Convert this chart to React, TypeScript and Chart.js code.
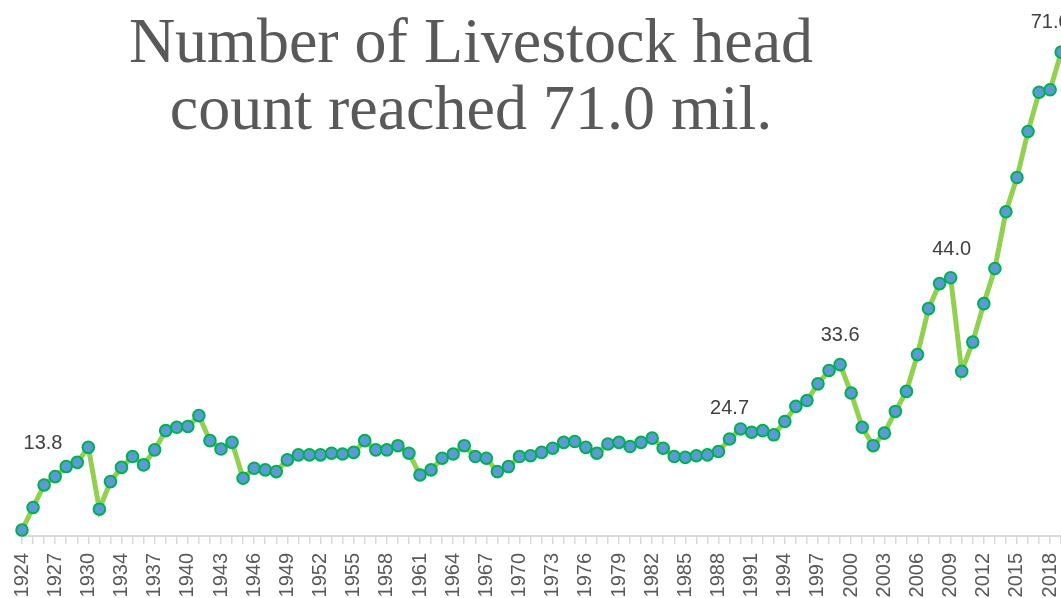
import React, { useEffect, useRef } from "react";
import { Chart, registerables } from "chart.js";

Chart.register(...registerables);

const years: number[] = [
  1924, 1925, 1926, 1927, 1928, 1929, 1930, 1932, 1933, 1934, 1935, 1936, 1937, 1938, 1939, 1940,
  1941, 1942, 1943, 1944, 1945, 1946, 1947, 1948, 1949, 1950, 1951, 1952, 1953, 1954, 1955, 1956,
  1957, 1958, 1959, 1960, 1961, 1962, 1963, 1964, 1965, 1966, 1967, 1968, 1969, 1970, 1971, 1972,
  1973, 1974, 1975, 1976, 1977, 1978, 1979, 1980, 1981, 1982, 1983, 1984, 1985, 1986, 1987, 1988,
  1989, 1990, 1991, 1992, 1993, 1994, 1995, 1996, 1997, 1998, 1999, 2000, 2001, 2002, 2003, 2004,
  2005, 2006, 2007, 2008, 2009, 2010, 2011, 2012, 2013, 2014, 2015, 2016, 2017, 2018, 2019,
];

const livestockMil: number[] = [
  13.8, 16.5, 19.2, 20.2, 21.4, 21.9, 23.7, 16.3, 19.6, 21.3, 22.6, 21.6, 23.4, 25.7, 26.1, 26.2,
  27.5, 24.5, 23.5, 24.3, 20.0, 21.2, 21.0, 20.8, 22.2, 22.8, 22.8, 22.8, 23.0, 22.9, 23.1, 24.5,
  23.4, 23.4, 23.9, 23.0, 20.4, 21.0, 22.4, 22.9, 23.9, 22.6, 22.4, 20.8, 21.4, 22.6, 22.7, 23.1,
  23.6, 24.3, 24.4, 23.7, 23.0, 24.1, 24.3, 23.8, 24.3, 24.8, 23.6, 22.6, 22.5, 22.7, 22.8, 23.2,
  24.7, 25.9, 25.5, 25.7, 25.2, 26.8, 28.6, 29.3, 31.3, 32.9, 33.6, 30.2, 26.1, 23.9, 25.4, 28.0,
  30.4, 34.8, 40.3, 43.3, 44.0, 32.8, 36.3, 40.9, 45.1, 51.9, 56.0, 61.5, 66.2, 66.5, 71.0,
];

// Years whose value is annotated on the chart
const labelledYears: number[] = [1924, 1989, 1999, 2009, 2019];

// Label placement relative to the annotated point (pixels)
const labelOffsets: { dx: number; dy: number }[] = [
  { dx: 21, dy: -87 },
  { dx: 0, dy: -31 },
  { dx: 0, dy: -29 },
  { dx: 1, dy: -28 },
  { dx: -11, dy: -30 },
];

const titleLines = ["Number of Livestock head", "count reached 71.0 mil."];

const valueLabelPlugin = {
  id: "valueLabels",
  afterDatasetsDraw(chart: any) {
    const meta = chart.getDatasetMeta(0);
    const ctx = chart.ctx;
    ctx.save();
    ctx.font = "20px 'Liberation Sans', Arial, sans-serif";
    ctx.fillStyle = "#404040";
    ctx.textAlign = "center";
    ctx.textBaseline = "middle";
    labelledYears.forEach((yr, k) => {
      const i = years.indexOf(yr);
      const el = meta.data[i];
      if (!el) return;
      const off = labelOffsets[k];
      ctx.fillText(livestockMil[i].toFixed(1), el.x + off.dx, el.y + off.dy);
    });
    ctx.restore();
  },
};

export default function App() {
  const canvasRef = useRef<HTMLCanvasElement | null>(null);

  useEffect(() => {
    if (!canvasRef.current) return;
    const chart = new Chart(canvasRef.current, {
      type: "line",
      data: {
        labels: years.map(String),
        datasets: [
          {
            data: livestockMil,
            borderColor: "#92d050",
            borderWidth: 5,
            tension: 0,
            pointRadius: 5.8,
            pointHoverRadius: 5.8,
            pointBorderWidth: 2,
            pointBackgroundColor: "#5b9bd5",
            pointBorderColor: "#00b050",
            clip: false as any,
          },
        ],
      },
      options: {
        responsive: false,
        animation: false,
        devicePixelRatio: 1,
        layout: { padding: { left: 22, right: 0, top: 0, bottom: 0 } },
        plugins: {
          legend: { display: false },
          tooltip: { enabled: false },
          title: { display: false },
        },
        scales: {
          x: {
            type: "category",
            offset: false,
            grid: {
              display: true,
              drawOnChartArea: false,
              drawTicks: true,
              tickLength: 8,
              color: "#d9d9d9",
              lineWidth: 1.5,
            },
            border: { display: true, color: "#d9d9d9", width: 2 },
            ticks: {
              autoSkip: false,
              maxRotation: 90,
              minRotation: 90,
              padding: 9,
              color: "#595959",
              font: { family: "'Liberation Sans', Arial, sans-serif", size: 20 },
              callback: (_v: any, i: number) => (i % 3 === 0 ? String(years[i]) : ""),
            },
            afterFit: (scale: any) => {
              scale.height = 62;
              scale.paddingLeft = 0;
              scale.paddingRight = 0;
            },
          },
          y: {
            display: false,
            min: 13.09,
            max: 76.31,
          },
        },
      },
      plugins: [valueLabelPlugin],
    });
    return () => chart.destroy();
  }, []);

  return (
    <div style={{ position: "relative", width: 1061, height: 598, overflow: "hidden", background: "#fff" }}>
      <style>{`body{margin:0;}`}</style>
      <canvas ref={canvasRef} width={1069} height={598} style={{ display: "block" }} />
      <div
        style={{
          position: "absolute",
          left: 471,
          top: 7,
          transform: "translateX(-50%)",
          whiteSpace: "nowrap",
          textAlign: "center",
          fontFamily: "'Liberation Serif', 'Times New Roman', serif",
          fontSize: 64,
          lineHeight: "67px",
          color: "#595959",
        }}
      >
        {titleLines[0]}
        <br />
        {titleLines[1]}
      </div>
    </div>
  );
}
